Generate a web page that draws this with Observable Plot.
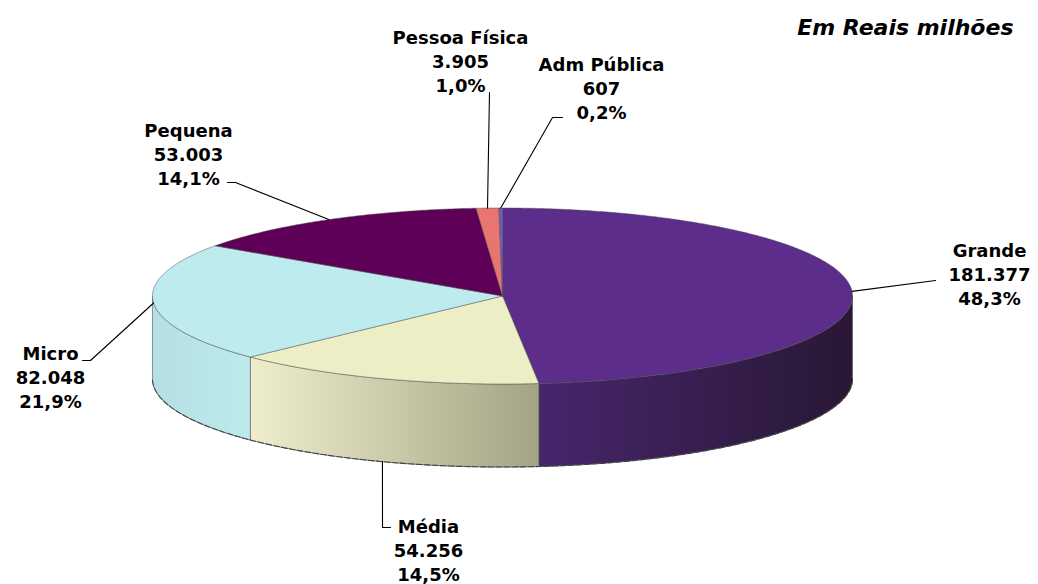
<!DOCTYPE html>
<html><head><meta charset="utf-8">
<script src="https://cdn.jsdelivr.net/npm/d3@7"></script>
<script src="https://cdn.jsdelivr.net/npm/@observablehq/plot@0.6"></script>
<style>body{margin:0;background:#fff;} #chart{width:1038px;height:584px;}</style>
</head><body><div id="chart"></div>
<script>
// ---- data ----
const categories = ["Grande", "Média", "Micro", "Pequena", "Pessoa Física", "Adm Pública"];
const values = [181377, 54256, 82048, 53003, 3905, 607];
const unitNote = "Em Reais milhões";

// ---- styles / layout ----
const topColors = ["#5C2D8B", "#EDEDC6", "#BDEBEE", "#5E0057", "#E8756F", "#6E5EC0"];
const sideGrad = [["#46266C", "#291734"], ["#EFEECC", "#A4A385"], ["#B4E0E4", "#BDEAED"], ["#4a0045", "#4a0045"], ["#c0605a", "#c0605a"], ["#5a4aa0", "#5a4aa0"]];
const labelPos = [[989, 257], [428, 533], [50, 360], [188, 137], [460, 44], [601, 71]];
const leaderBends = [[[935, 280]], [[382, 527], [390, 527]], [[90, 360], [82, 360]], [[235, 182], [227, 182]], [[489, 92]], [[552, 117], [562, 117]]];
const W = 1038, H = 584;
const cx = 502, cy = 295.5, rx = 350, ry = 88, depth = 83;
const fs = 18, lineGap = 24;

const loc = d3.formatLocale({decimal: ",", thousands: ".", grouping: [3], currency: ["R$", ""]});
const fmtVal = loc.format(",d");
const fmtPct = loc.format(".1f");

function pt(deg, dy = 0) {
  const r = deg * Math.PI / 180;
  return {x: cx + rx * Math.sin(r), y: cy - ry * Math.cos(r) + dy};
}
function arc(a0, a1, dy = 0) {
  const n = Math.max(2, Math.ceil(Math.abs(a1 - a0) / 0.5));
  const out = [];
  for (let k = 0; k <= n; k++) out.push(pt(a0 + (a1 - a0) * k / n, dy));
  return out;
}

const total = d3.sum(values);
let cum = 0;
const slices = categories.map((name, i) => {
  const a0 = cum / total * 360; cum += values[i];
  const a1 = cum / total * 360;
  return {name, i, value: values[i], a0, a1, mid: (a0 + a1) / 2};
});

const marks = [];
// sides (front half: 90..270 deg)
slices.forEach(s => {
  const s0 = Math.max(s.a0, 90), s1 = Math.min(s.a1, 270);
  if (s1 <= s0) return;
  const poly = [...arc(s0, s1, 0), ...arc(s1, s0, depth)];
  poly.push(poly[0]);
  marks.push(Plot.line(poly, {x: "x", y: "y", fill: `url(#side${s.i})`, stroke: "#555", strokeWidth: 0.6, curve: "linear"}));
});
// bottom edge
marks.push(Plot.line(arc(90, 270, depth), {x: "x", y: "y", stroke: "#444", strokeWidth: 1.1, strokeDasharray: "6,2", curve: "linear"}));
// top faces
slices.forEach(s => {
  const poly = [{x: cx, y: cy}, ...arc(s.a0, s.a1, 0), {x: cx, y: cy}];
  marks.push(Plot.line(poly, {x: "x", y: "y", fill: topColors[s.i], stroke: "#4a4a4a", strokeWidth: 0.6, strokeOpacity: 0.8, curve: "linear"}));
});
// leader lines
slices.forEach(s => {
  const front = s.mid > 120 && s.mid < 240;
  const a = pt(s.mid, front ? depth : 0);
  const pts = [a, ...leaderBends[s.i].map(([x, y]) => ({x, y}))];
  marks.push(Plot.line(pts, {x: "x", y: "y", stroke: "#000", strokeWidth: 1.1, curve: "linear"}));
});
// labels
const labelRows = [];
slices.forEach(s => {
  const [lx, ly] = labelPos[s.i];
  const lines = [s.name, fmtVal(s.value), fmtPct(s.value / total * 100) + "%"];
  lines.forEach((t, k) => labelRows.push({x: lx, y: ly + k * lineGap, text: t}));
});
marks.push(Plot.text(labelRows, {x: "x", y: "y", text: "text", fontSize: fs, fontWeight: "bold", fontFamily: "DejaVu Sans", fill: "#000", textAnchor: "middle", lineAnchor: "bottom", dy: -1}));
marks.push(Plot.text([unitNote], {x: () => 1013, y: () => 35, text: d => d, fontSize: 22, fontWeight: "bold", fontStyle: "italic", fontFamily: "DejaVu Sans", fill: "#000", textAnchor: "end", lineAnchor: "bottom", dy: -1}));

const chart = Plot.plot({
  width: W, height: H, margin: 0,
  x: {domain: [0, W], range: [0, W], axis: null},
  y: {domain: [0, H], range: [0, H], axis: null},
  style: {background: "#fff"},
  marks
});
const ns = "http://www.w3.org/2000/svg";
const defs = document.createElementNS(ns, "defs");
sideGrad.forEach((g, i) => {
  const lg = document.createElementNS(ns, "linearGradient");
  lg.setAttribute("id", "side" + i);
  lg.setAttribute("x1", "0"); lg.setAttribute("x2", "1"); lg.setAttribute("y1", "0"); lg.setAttribute("y2", "0");
  g.forEach((c, k) => {
    const st = document.createElementNS(ns, "stop");
    st.setAttribute("offset", k === 0 ? "0" : "1");
    st.setAttribute("stop-color", c);
    lg.appendChild(st);
  });
  defs.appendChild(lg);
});
chart.insertBefore(defs, chart.firstChild);
document.getElementById("chart").appendChild(chart);
</script>
</body></html>
